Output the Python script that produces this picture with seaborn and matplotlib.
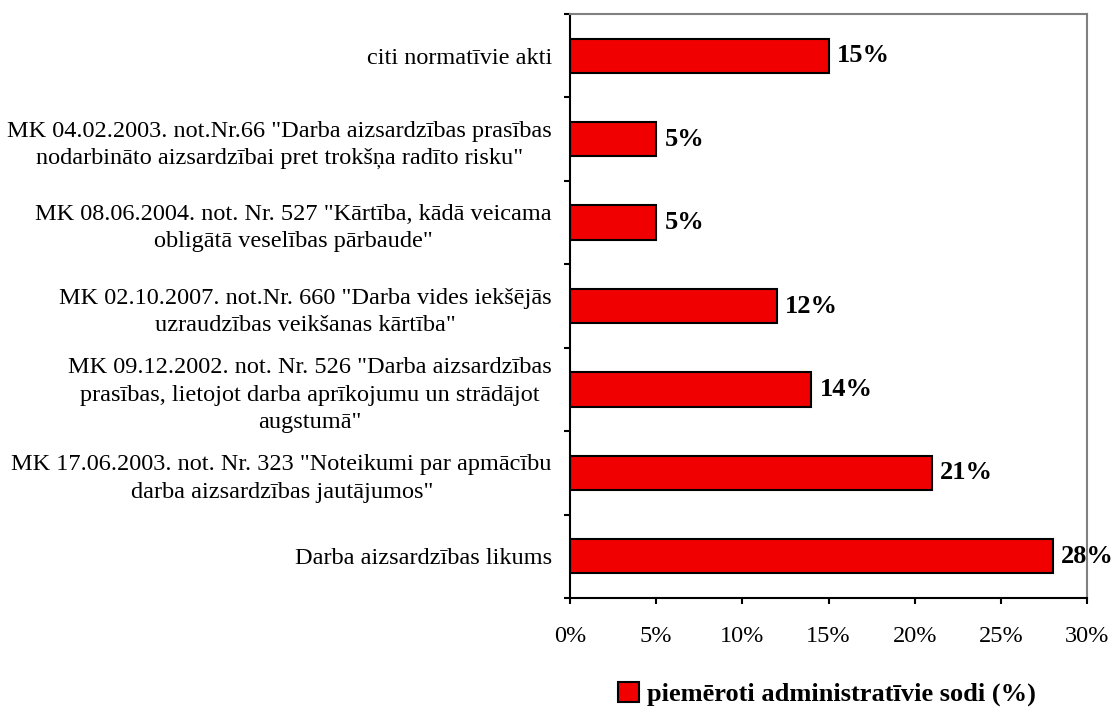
import matplotlib
matplotlib.use("Agg")
import matplotlib.pyplot as plt
import seaborn as sns
import pandas as pd
from matplotlib.patches import Patch
from matplotlib.ticker import FuncFormatter

# data (top to bottom as in the chart)
categories = [
    "citi normatīvie akti",
    "MK 04.02.2003. not.Nr.66 \"Darba aizsardzības prasības\nnodarbināto aizsardzībai pret trokšņa radīto risku\"",
    "MK 08.06.2004. not. Nr. 527 \"Kārtība, kādā veicama\nobligātā veselības pārbaude\"",
    "MK 02.10.2007. not.Nr. 660 \"Darba vides iekšējās\nuzraudzības veikšanas kārtība\"",
    "MK 09.12.2002. not. Nr. 526 \"Darba aizsardzības\nprasības, lietojot darba aprīkojumu un strādājot\naugstumā\"",
    "MK 17.06.2003. not. Nr. 323 \"Noteikumi par apmācību\ndarba aizsardzības jautājumos\"",
    "Darba aizsardzības likums",
]
values = [15, 5, 5, 12, 14, 21, 28]
series_name = "piemēroti administratīvie sodi (%)"
x_ticks = [0, 5, 10, 15, 20, 25, 30]

df = pd.DataFrame({"cat": categories, "val": values})

sns.set_theme(style="white")
plt.rcParams["font.family"] = ["Liberation Serif", "DejaVu Serif"]
plt.rcParams["text.color"] = "black"
plt.rcParams["xtick.color"] = "black"
plt.rcParams["ytick.color"] = "black"

fig = plt.figure(figsize=(11.13, 7.08), dpi=100)
ax = fig.add_axes([570 / 1113, 1 - 598 / 708, (1087 - 570) / 1113, (598 - 14) / 708])

sns.barplot(data=df, y="cat", x="val", orient="h", color="#f00000",
            edgecolor="black", linewidth=1.5, width=0.41, saturation=1, ax=ax)

ax.set_xlim(0, 30)
ax.set_ylim(len(categories) - 0.5, -0.5)
ax.set_xticks(x_ticks)
ax.xaxis.set_major_formatter(FuncFormatter(lambda v, p: f"{v:.0f}%"))
ax.set_xlabel("")
ax.set_ylabel("")

# category labels at centres, boundary ticks as minor ticks
ax.set_yticks(range(len(categories)))
ax.set_yticklabels(categories, fontsize=17.5, color="black")
for t in ax.get_yticklabels():
    t.set_multialignment("center")
    t.set_linespacing(1.4)
ax.set_yticks([i - 0.5 for i in range(len(categories) + 1)], minor=True)
ax.tick_params(axis="y", which="major", length=0, pad=13)
ax.tick_params(axis="y", which="minor", left=True, length=4.5, width=1.5, color="black", direction="out")
ax.tick_params(axis="x", which="major", bottom=True, length=4.5, width=1.5, color="black",
               direction="out", pad=16, labelsize=17.5, labelcolor="black")

for side in ["left", "bottom"]:
    ax.spines[side].set_color("black")
    ax.spines[side].set_linewidth(1.5)
for side in ["top", "right"]:
    ax.spines[side].set_color("#808080")
    ax.spines[side].set_linewidth(1.5)

for c in ax.containers:
    ax.bar_label(c, labels=[f"{v}%" for v in values], padding=6, fontsize=19,
                 fontweight="bold", color="black", clip_on=False)

handle = Patch(facecolor="#f00000", edgecolor="black", linewidth=1.5)
fig.legend([handle], [series_name], loc="center", bbox_to_anchor=(827 / 1113, 1 - 694 / 708),
           frameon=False, prop={"size": 19, "weight": "bold"}, handlelength=0.8,
           handleheight=0.8, handletextpad=0.3, labelcolor="black")

fig.savefig("out.png", dpi=100)
